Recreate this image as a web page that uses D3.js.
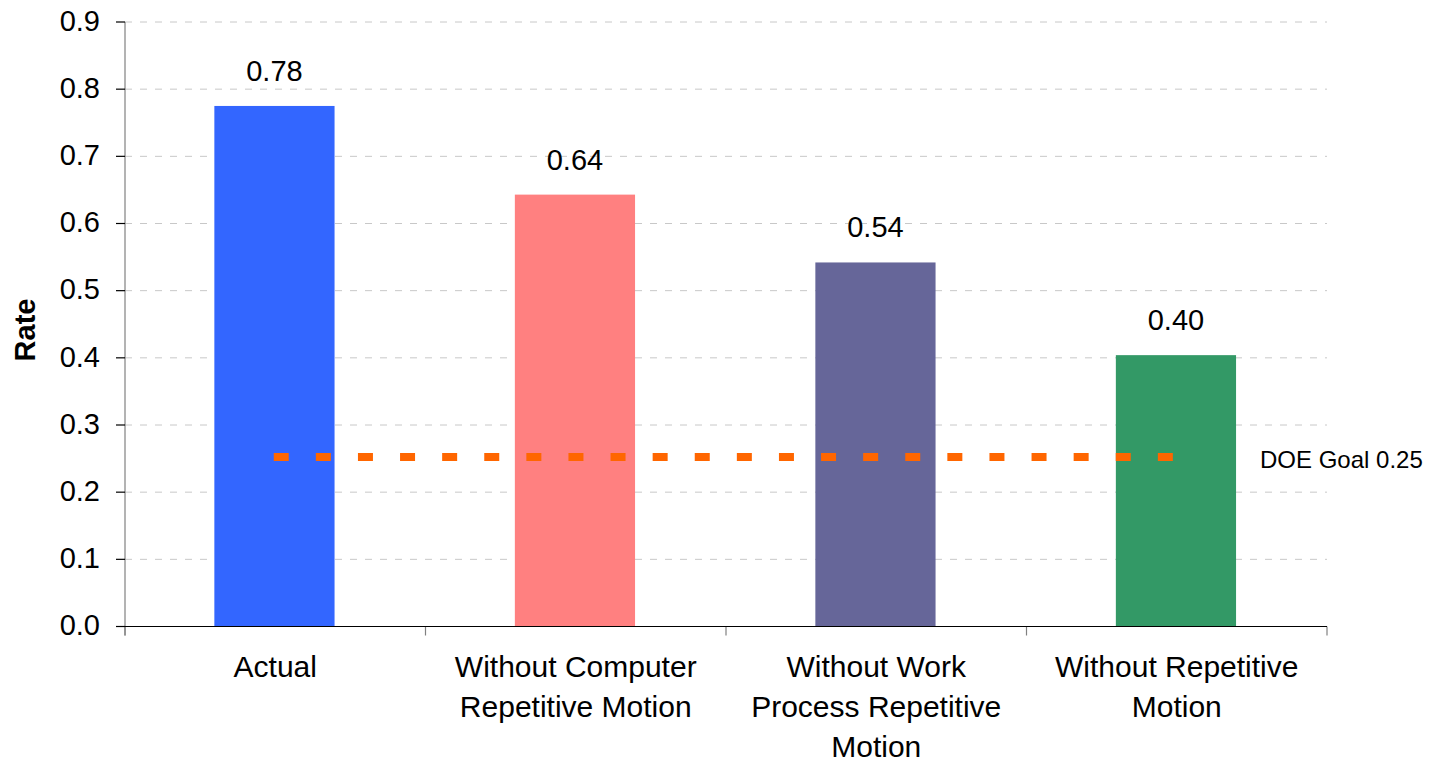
<!DOCTYPE html>
<html>
<head>
<meta charset="utf-8">
<script src="https://cdn.jsdelivr.net/npm/d3@7/dist/d3.min.js"></script>
<style>
  html, body { margin: 0; padding: 0; background: #fff; }
  svg { display: block; font-family: "Liberation Sans", Arial, sans-serif; }
</style>
</head>
<body>
<svg id="chart" width="1430" height="763"></svg>
<script>
const categories = [
  ["Actual"],
  ["Without Computer", "Repetitive Motion"],
  ["Without Work", "Process Repetitive", "Motion"],
  ["Without Repetitive", "Motion"]
];
const values = [0.775, 0.643, 0.542, 0.404];
const valueLabels = ["0.78", "0.64", "0.54", "0.40"];
const colors = ["#3366FF", "#FF8080", "#666699", "#339966"];
const yTicks = [0.0, 0.1, 0.2, 0.3, 0.4, 0.5, 0.6, 0.7, 0.8, 0.9];
const goalValue = 0.25;
const goalLabel = "DOE Goal 0.25";
const yTitle = "Rate";

(function () {
const svg = d3.select("#chart");
const pL = 125, pR = 1327, pT = 22, pB = 626.5;

const x = d3.scaleBand()
  .domain(d3.range(categories.length))
  .range([pL, pR])
  .paddingInner(0.6)
  .paddingOuter(0.3);
const xCat = d3.scaleLinear().domain([0, categories.length]).range([pL, pR]);
const y = d3.scaleLinear().domain([0, 0.9]).range([pB, pT]);

// gridlines
svg.append("g").selectAll("line")
  .data(yTicks.filter(d => d > 0))
  .join("line")
  .attr("x1", pL).attr("x2", pR)
  .attr("y1", d => y(d)).attr("y2", d => y(d))
  .attr("stroke", "#c8c8c8")
  .attr("stroke-width", 1)
  .attr("stroke-dasharray", "7,8");

// bars
svg.append("g").selectAll("rect")
  .data(values)
  .join("rect")
  .attr("x", (d, i) => x(i) - 0.8)
  .attr("width", x.bandwidth())
  .attr("y", d => y(d))
  .attr("height", d => y(0) - y(d))
  .attr("fill", (d, i) => colors[i]);

// value labels
svg.append("g").selectAll("text")
  .data(values)
  .join("text")
  .attr("x", (d, i) => x(i) + x.bandwidth() / 2 - 0.8)
  .attr("y", d => y(d) - 25)
  .attr("text-anchor", "middle")
  .attr("font-size", 29)
  .attr("fill", "#000")
  .text((d, i) => valueLabels[i]);

// goal line
const cx0 = x(0) + x.bandwidth() / 2;
const cx1 = x(categories.length - 1) + x.bandwidth() / 2;
svg.append("line")
  .attr("x1", cx0 - 1.5).attr("x2", cx1)
  .attr("y1", y(goalValue) - 1.5).attr("y2", y(goalValue) - 1.5)
  .attr("stroke", "#FF6600")
  .attr("stroke-width", 8)
  .attr("stroke-dasharray", "15,27.1");

svg.append("text")
  .attr("x", 1260)
  .attr("y", y(goalValue) + 9.5)
  .attr("font-size", 24)
  .attr("fill", "#000")
  .text(goalLabel);

// y axis
const yAxis = svg.append("g");
yAxis.append("line")
  .attr("x1", pL).attr("x2", pL)
  .attr("y1", pT).attr("y2", pB + 9)
  .attr("stroke", "#808080").attr("stroke-width", 1.2);
yAxis.selectAll("line.tick")
  .data(yTicks)
  .join("line")
  .attr("class", "tick")
  .attr("x1", pL - 9).attr("x2", pL)
  .attr("y1", d => y(d)).attr("y2", d => y(d))
  .attr("stroke", "#000").attr("stroke-width", 1.2);
yAxis.selectAll("text")
  .data(yTicks)
  .join("text")
  .attr("x", 100)
  .attr("y", d => y(d))
  .attr("dy", "0.3em")
  .attr("text-anchor", "end")
  .attr("font-size", 29)
  .attr("fill", "#000")
  .text(d => d3.format(".1f")(d));

// x axis
const xAxis = svg.append("g");
xAxis.selectAll("line.tick")
  .data(d3.range(categories.length + 1))
  .join("line")
  .attr("class", "tick")
  .attr("x1", d => xCat(d)).attr("x2", d => xCat(d))
  .attr("y1", pB).attr("y2", pB + 9)
  .attr("stroke", "#808080").attr("stroke-width", 1.2);
xAxis.append("line")
  .attr("x1", pL - 9).attr("x2", pR)
  .attr("y1", pB).attr("y2", pB)
  .attr("stroke", "#000").attr("stroke-width", 1.2);

const catText = xAxis.selectAll("text")
  .data(categories)
  .join("text")
  .attr("text-anchor", "middle")
  .attr("font-size", 30)
  .attr("fill", "#000");
catText.selectAll("tspan")
  .data((d, i) => d.map(t => ({ t, i })))
  .join("tspan")
  .attr("x", d => x(d.i) + x.bandwidth() / 2)
  .attr("y", (d, j) => 677 + j * 40)
  .text(d => d.t);

// y title
svg.append("text")
  .attr("transform", "translate(35,330) rotate(-90)")
  .attr("text-anchor", "middle")
  .attr("font-size", 29)
  .attr("font-weight", "bold")
  .attr("fill", "#000")
  .text(yTitle);
})();
</script>
</body>
</html>
